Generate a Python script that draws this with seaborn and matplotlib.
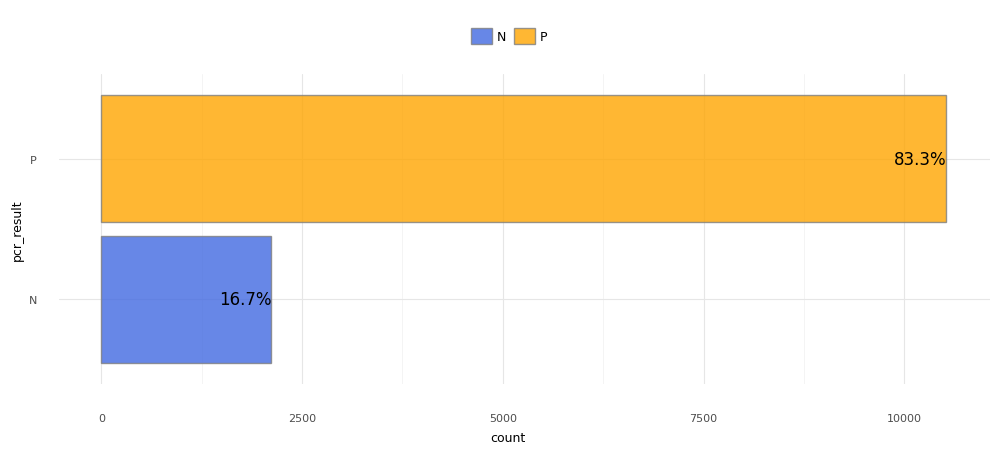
import matplotlib
matplotlib.use("Agg")
import matplotlib.pyplot as plt
import seaborn as sns
import pandas as pd

categories = ["N", "P"]
counts = [2115, 10520]
palette = {"N": "#4169E1", "P": "#FFA500"}

df = pd.DataFrame({"pcr_result": categories, "count": counts})
total = sum(counts)

sns.set_style("white")
plt.rcParams["font.family"] = ["DejaVu Sans"]

fig = plt.figure(figsize=(9.98, 4.56), dpi=100)
ax = fig.add_axes([59 / 998, 1 - 385 / 456, 931 / 998, 310 / 456])

sns.barplot(data=df, x="count", y="pcr_result", hue="pcr_result",
            order=["P", "N"], hue_order=categories, palette=palette,
            width=0.9, alpha=0.8, edgecolor="#7f7f7f", linewidth=1.0,
            saturation=1, dodge=False, legend=True, ax=ax)

# percentage labels at the end of each bar
for cat, n in zip(categories, counts):
    ypos = ["P", "N"].index(cat)
    ax.text(n, ypos, f"{n / total * 100:.1f}%", ha="right", va="center",
            fontsize=12, color="black")

ax.set_xlim(-527, 11067)
ax.set_ylim(1.6, -0.6)
ax.set_xticks([0, 2500, 5000, 7500, 10000])
ax.set_xticks([1250, 3750, 6250, 8750], minor=True)
ax.set_axisbelow(True)
ax.grid(which="major", color="#e6e6e6", linewidth=0.8)
ax.grid(which="minor", axis="x", color="#f2f2f2", linewidth=0.6)
ax.tick_params(axis="x", which="both", length=0, pad=21, labelsize=8, labelcolor="#4d4d4d")
ax.tick_params(axis="y", length=0, pad=16, labelsize=8, labelcolor="#4d4d4d")
for s in ax.spines.values():
    s.set_visible(False)

ax.set_xlabel("count", fontsize=9, color="black")
ax.set_ylabel("pcr_result", fontsize=9, labelpad=3, color="black")
ax.xaxis.set_label_coords((508 - 59) / 931, (385 - 432) / 310)

sns.move_legend(ax, "center", bbox_to_anchor=(509 / 998, 1 - 37 / 456),
                bbox_transform=fig.transFigure, ncol=2, frameon=False,
                title=None, fontsize=9, handlelength=1.7, handleheight=1.7,
                columnspacing=0.6, handletextpad=0.4)
for h in ax.get_legend().legend_handles:
    h.set_edgecolor("#7f7f7f")
for t in ax.get_legend().get_texts():
    t.set_color("black")

fig.savefig("out.png", dpi=100)
